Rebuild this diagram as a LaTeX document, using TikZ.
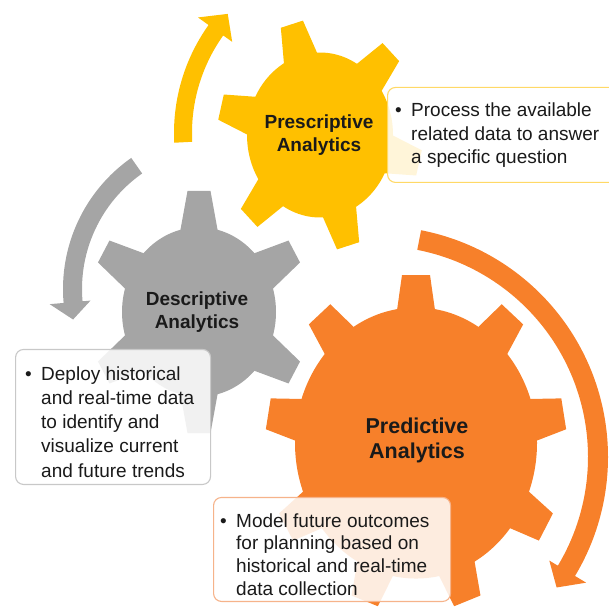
\documentclass[tikz,border=0pt]{standalone}
\usepackage{fontspec}
\setmainfont{Liberation Sans}
\definecolor{gyellow}{HTML}{FFC000}
\definecolor{ggray}{HTML}{A5A5A5}
\definecolor{gorange}{HTML}{F7802A}
\definecolor{yborder}{HTML}{FFD966}
\definecolor{gborder}{HTML}{C8C8C8}
\definecolor{oborder}{HTML}{F6B38A}
\definecolor{txtc}{HTML}{1A1A1A}
\newcommand\drawgear[7]{%
  \fill[#1] (0,0) circle[radius=#4];
  \foreach \k in {1,...,#2}{%
    \pgfmathsetmacro\ang{#3+360/#2*(\k-1)}%
    \fill[#1, rotate=\ang] (#4-12,-#6) -- (#5,-#7) -- (#5,#7) -- (#4-12,#6) -- cycle;
  }%
}
\tikzset{
  lbl/.style={align=center, text=txtc, font=\bfseries\fontsize{19}{23.5}\selectfont, inner sep=0pt},
  boxstyle/.style={rectangle, rounded corners=8pt, line width=1.1pt, fill=white, fill opacity=0.85, inner sep=0pt, anchor=south west},
  bullettext/.style={anchor=base west, inner sep=0pt, text=txtc}
}
\newcommand\bul{\makebox[16pt][l]{\textbullet}}
\begin{document}
\begin{tikzpicture}[x=1pt,y=1pt]
\useasboundingbox (0,0) rectangle (609,608);
% arrows
\begin{scope}[shift={(360,475)}]
\fill[gyellow] (183:168) arc[start angle=183, end angle=144.5, radius=168] -- (144.5:157) -- (138:178) -- (144.5:199) -- (144.5:186) arc[start angle=144.5, end angle=183, radius=186] -- cycle;
\end{scope}
\begin{scope}[shift={(223,319)}]
\fill[ggray] (125:141) arc[start angle=125, end angle=185, radius=141] -- (185:133) -- (191.5:153) -- (185:174) -- (185:160) arc[start angle=185, end angle=125, radius=160] -- cycle;
\end{scope}
\begin{scope}[shift={(377,151)}]
\fill[gorange] (79:211) arc[start angle=79, end angle=-31, radius=211] -- (-31:201) -- (-36:222) -- (-31:244) -- (-31:231) arc[start angle=-31, end angle=79, radius=231] -- cycle;
\end{scope}
% gears
\begin{scope}[shift={(320,473)}, yscale=1.13]
\drawgear{gyellow}{6}{46}{73}{102}{19}{11.5}
\end{scope}
\begin{scope}[shift={(199,296)}, yscale=1.1]
\drawgear{ggray}{6}{30}{77}{110}{20.5}{11.5}
\end{scope}
\begin{scope}[shift={(416,165)}, yscale=1.12]
\drawgear{gorange}{9}{90}{121}{150}{20.5}{14}
\end{scope}
% gear labels
\node[lbl] (pres) at (319,473) {Prescriptive\\Analytics};
\node[lbl] (desc) at (197,296) {Descriptive\\Analytics};
\node[lbl, font=\bfseries\fontsize{21.5}{25}\selectfont] (pred) at (417,168) {Predictive\\Analytics};
% boxes
\node[boxstyle, draw=yborder, minimum width=240pt, minimum height=95pt] (ybox) at (387,425) {};
\node[boxstyle, draw=gborder, minimum width=195pt, minimum height=135pt] (gbox) at (15,123) {};
\node[boxstyle, draw=oborder, minimum width=237pt, minimum height=104pt] (obox) at (213,6) {};
% box texts
\node[bullettext, font=\fontsize{19}{23.5}\selectfont] (ytxt) at (395,491)
  {\begin{tabular}[t]{@{}l@{}l@{}}\bul & Process the available\\ & related data to answer\\ & a specific question\end{tabular}};
\node[bullettext, font=\fontsize{19}{24.3}\selectfont] (gtxt) at (25,228)
  {\begin{tabular}[t]{@{}l@{}l@{}}\bul & Deploy historical\\ & and real-time data\\ & to identify and\\ & visualize current\\ & and future trends\end{tabular}};
\node[bullettext, font=\fontsize{19}{22.7}\selectfont] (otxt) at (220,81)
  {\begin{tabular}[t]{@{}l@{}l@{}}\bul & Model future outcomes\\ & for planning based on\\ & historical and real-time\\ & data collection\end{tabular}};
\end{tikzpicture}
\end{document}
